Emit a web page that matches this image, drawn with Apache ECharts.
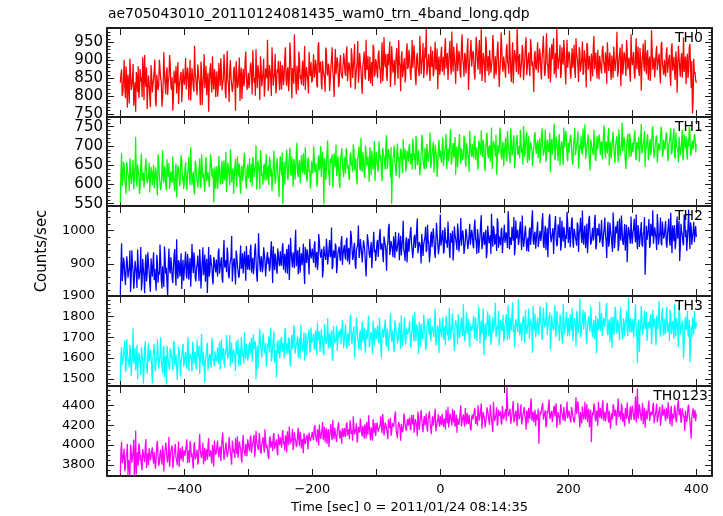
<!DOCTYPE html>
<html><head><meta charset="utf-8">
<script src="https://cdn.jsdelivr.net/npm/echarts@6/dist/echarts.min.js"></script>
<style>html,body{margin:0;padding:0;background:#fff}#c{width:723px;height:516px}</style>
</head><body><div id="c"></div>
<script>
const TITLE = 'ae705043010_20110124081435_wam0_trn_4band_long.qdp';
const X_NAME = 'Time [sec] 0 = 2011/01/24 08:14:35';
const Y_NAME = 'Counts/sec';
const BANDS = ['TH0', 'TH1', 'TH2', 'TH3', 'TH0123'];
// even-second bins start at -500 s, odd-second bins at -499 s, each 2 s apart
const EVEN_START = -500;
const ODD_START = -499;
const BIN_STEP = 2;

const TH0_EVEN = [
838,875,812,902,795,846,861,780,868,829,890,803,757,851,884,820,842,798,872,915,826,765,858,833,887,
811,848,903,772,856,829,880,841,796,923,835,867,804,852,889,818,760,871,842,808,895,826,859,784,877,
832,907,815,861,845,788,879,826,941,850,803,868,834,897,776,858,823,885,841,757,873,836,912,819,864,
847,799,893,829,872,836,918,811,862,845,784,901,851,827,883,760,869,832,908,856,793,877,840,925,818,
866,838,894,805,879,852,931,823,869,790,884,846,905,827,862,958,834,872,801,889,851,919,825,866,842,
898,819,874,856,937,830,881,847,912,795,868,973,842,885,817,903,859,876,829,940,852,886,808,871,896,
845,917,862,888,825,951,869,836,899,877,812,926,858,884,843,905,870,798,932,861,889,835,915,872,847,
903,857,939,868,886,824,912,879,946,851,894,838,921,873,807,899,865,958,882,843,910,876,829,934,862,
895,851,928,873,904,842,965,881,857,918,889,826,940,866,902,878,935,849,893,814,926,871,907,859,948,
883,913,846,957,874,899,831,921,888,969,862,905,851,936,990,879,918,843,896,927,868,952,884,820,911,
875,938,891,859,962,903,846,924,884,981,869,907,835,948,893,916,852,973,889,921,864,935,818,902,957,
881,919,847,966,893,925,862,987,874,908,839,944,895,858,930,886,971,849,912,878,953,826,901,937,869,
915,852,946,889,983,871,907,836,929,894,990,861,918,877,943,845,904,965,883,922,856,938,897,812,926,
874,951,890,918,847,932,905,868,976,884,913,839,945,899,862,921,990,876,909,851,937,888,924,833,958,
882,916,849,934,897,871,962,905,840,927,888,953,866,911,825,942,894,878,919,856,968,901,873,930,847,
909,864,941,887,923,835,956,898,872,914,851,937,893,980,869,905,828,946,882,917,857,929,896,864,973,
887,924,849,962,901,870,935,816,913,885,958,862,929,896,843,984,874,908,857,941,890,919,836,952,878,
902,855,937,884,916,829,948,893,867,925,810,941,879,903,852,965,886,834,919,872,946,823,752,905,868,
838];
const TH0_ODD = [
862,801,846,827,884,769,833,905,818,851,774,839,868,812,795,876,853,909,789,847,881,816,837,770,859,
833,874,786,861,818,902,850,771,838,864,806,881,843,915,827,853,797,836,884,857,779,842,868,825,850,
858,819,880,790,902,837,856,813,868,822,889,847,775,871,830,918,852,803,866,834,892,811,845,876,798,
870,823,858,906,817,849,881,795,927,836,873,851,812,869,840,898,824,863,787,880,846,828,897,859,835,
823,881,856,929,838,802,870,887,845,912,828,866,799,878,851,815,887,846,937,830,864,808,875,899,817,
853,887,832,909,845,872,814,950,858,879,835,891,806,862,925,848,833,899,871,818,882,843,924,857,839,
881,852,902,831,941,866,897,819,873,850,936,866,891,815,878,937,848,883,862,909,826,893,867,850,920,
866,921,842,895,860,934,851,905,820,878,954,864,893,838,887,925,847,874,913,859,836,896,944,855,904,
868,917,880,836,951,874,899,919,843,887,953,862,904,878,831,914,870,957,885,910,853,892,839,925,876,
930,867,896,879,942,852,908,884,857,921,893,949,874,908,859,899,867,939,881,856,911,874,933,896,860,
919,869,910,934,877,921,888,955,861,898,939,882,916,870,927,861,940,902,855,913,889,962,871,929,883,
927,866,900,938,874,957,896,843,921,882,967,870,912,929,866,903,944,877,860,931,895,868,978,884,911,
876,930,897,863,921,840,951,889,915,868,930,907,852,894,926,874,943,859,906,877,960,885,869,915,881,
912,866,933,874,907,969,857,924,892,849,936,878,903,962,881,852,919,896,944,865,901,957,870,908,880,
925,866,902,879,944,851,918,883,937,869,905,860,928,891,949,874,913,842,899,934,876,922,850,889,913,
876,930,897,865,904,951,871,922,846,889,938,870,916,855,902,936,879,861,923,890,957,875,908,841,910,
903,864,912,876,939,857,905,888,947,870,899,920,846,911,877,928,896,853,920,873,906,863,944,889,860,
874,918,866,903,858,931,872,910,846,899,877,936,855,921,884,868,911,893,851,938,880,899,790,862,845];

const TH1_EVEN = [
552,681,612,648,597,659,626,583,642,607,663,618,723,594,637,575,652,609,631,588,668,603,622,579,645,
598,651,610,633,571,662,619,596,689,605,640,584,627,656,592,615,673,601,638,566,649,613,594,661,622,
607,658,585,639,616,697,598,633,574,652,621,609,667,590,644,628,581,671,611,637,595,660,618,553,646,
625,589,674,612,648,601,663,631,580,657,620,691,605,642,618,666,593,636,654,576,649,623,682,607,641,
616,668,629,594,657,638,702,612,651,587,664,627,646,610,679,633,598,660,641,619,688,602,655,631,567,
673,624,548,659,636,690,611,648,629,672,594,657,640,708,618,663,599,647,681,625,652,607,670,638,615,
661,699,632,654,603,676,643,619,685,548,658,637,714,626,667,650,591,680,645,622,673,609,662,694,635,
672,628,690,651,611,683,659,704,637,668,600,679,646,721,633,664,617,688,655,641,697,624,670,650,609,
684,646,712,661,627,695,673,639,728,654,681,618,549,668,701,642,677,660,616,693,651,718,665,634,688,
659,705,672,638,697,681,726,650,689,624,677,713,662,695,641,684,669,735,655,692,630,703,674,647,716,
688,656,722,670,701,639,694,679,743,661,708,686,625,699,671,731,654,690,676,718,646,697,663,739,681,
705,668,727,689,652,714,693,741,671,700,634,719,682,696,659,748,687,710,673,625,702,690,733,665,711,
684,722,660,705,693,746,674,715,642,698,729,686,668,711,695,752,671,703,656,726,689,712,647,697,736,
679,714,692,655,727,701,684,743,668,709,690,632,718,697,758,676,705,661,731,688,712,650,696,739,674,
708,683,729,662,700,747,689,716,641,703,725,678,694,756,670,712,687,636,721,699,742,667,705,690,730,
676,712,695,754,668,703,722,649,710,688,737,673,701,726,657,715,694,760,681,706,640,719,697,733,672,
709,686,741,663,702,724,690,757,675,713,645,699,730,682,717,694,751,669,705,727,654,711,693,736,678,
715,692,728,660,703,746,684,711,673,735,698,657,720,689,742,676,707,726,665,700,739,681,714,695,722,
704];
const TH1_ODD = [
634,596,659,613,575,641,620,668,601,639,587,645,611,652,623,598,680,616,591,647,629,605,657,614,633,
626,590,644,603,678,621,585,639,611,648,597,665,620,589,634,604,625,582,654,618,637,596,676,608,588,
640,604,627,671,598,643,612,585,661,626,592,640,603,678,617,599,650,609,632,593,679,624,641,607,589,
648,611,635,599,661,626,610,684,618,640,597,655,632,576,647,614,673,620,598,641,609,666,627,588,652,
632,605,654,671,619,645,587,662,630,689,621,599,654,637,610,648,672,620,583,651,630,615,668,603,644,
640,683,617,599,664,627,648,696,623,637,666,612,682,630,655,603,676,628,641,697,618,664,632,589,660,
628,670,648,594,661,637,700,623,650,668,611,687,641,597,655,678,629,661,703,636,650,591,676,655,619,
659,694,641,622,676,649,633,690,655,614,670,699,636,661,684,628,701,648,673,606,662,687,638,713,651,
661,633,690,676,608,681,652,709,640,692,666,697,631,677,659,622,706,671,651,687,629,674,693,648,679,
696,652,681,719,663,638,701,666,690,648,729,661,639,683,705,659,691,642,679,711,664,688,619,695,670,
667,703,648,689,731,674,660,715,651,692,669,723,686,644,705,678,694,663,727,659,708,681,633,700,672,
681,720,664,696,638,708,677,695,716,650,691,735,668,702,687,640,713,695,729,661,680,748,674,698,647,
703,668,739,690,655,711,685,728,662,713,676,700,742,681,651,719,699,737,680,662,710,691,672,726,694,
706,668,720,687,745,675,699,659,716,684,735,707,677,696,663,724,690,712,649,703,681,748,691,719,660,
683,722,697,651,715,676,704,738,666,691,684,745,708,667,699,730,656,717,694,677,708,661,725,686,714,
706,665,733,690,712,680,747,697,668,721,700,655,716,688,743,674,700,686,724,661,692,731,670,712,689,
684,725,672,710,693,659,718,680,703,739,690,721,662,708,676,743,698,686,721,657,707,688,750,672,716,
690,735,673,702,721,678,709,745,667,700,689,724,676,710,662,730,694,681,719,749,674,705,690,731,683];

const TH2_EVEN = [
808,962,871,905,836,923,858,889,815,941,880,852,910,827,898,867,951,844,886,811,928,873,902,839,917,
861,935,884,819,908,876,958,849,893,830,917,888,806,946,871,899,842,925,868,974,855,903,881,824,912,
879,937,856,906,891,831,960,872,915,847,898,883,944,826,909,866,928,895,812,951,877,904,853,921,888,
913,862,946,889,920,843,972,897,875,930,856,908,984,881,917,838,925,900,866,955,892,871,938,849,911,
927,881,958,903,869,941,915,846,992,898,923,874,950,908,857,936,919,889,968,842,912,931,884,946,901,
938,894,962,917,873,945,926,851,979,908,935,887,1003,922,869,950,914,896,961,839,929,944,902,975,916,
946,903,968,925,882,990,937,914,859,953,929,976,898,944,920,1010,891,938,961,872,933,952,909,984,926,
957,913,979,936,898,1000,947,921,964,885,942,1016,929,955,904,971,938,862,989,950,918,966,931,997,943,
934,972,915,1005,948,927,983,955,879,962,1021,941,975,920,958,996,937,968,911,985,949,1030,930,964,904,
976,942,1011,957,923,988,964,1037,945,972,901,993,958,981,936,1018,961,927,997,950,979,918,1024,966,944,
1049,958,1002,939,985,971,1028,947,993,964,910,1013,975,942,999,961,1038,954,983,927,1006,969,948,1021,976,
990,947,1034,968,1005,933,981,1047,959,996,974,917,1015,962,987,1051,952,1001,970,939,1026,983,956,1009,966,
1018,961,993,1059,944,985,1012,970,926,1031,988,957,1004,979,1046,951,995,1020,964,937,1010,983,1062,958,997,
972,1027,955,1000,984,1053,948,1015,976,920,1036,993,962,1008,986,1044,953,1019,979,940,1030,967,1001,988,1057,
963,1011,984,1040,949,997,971,1025,936,1003,987,1061,958,1016,975,932,1034,990,966,1009,981,1048,955,999,1022,
974,1032,951,1006,985,918,1027,963,1001,979,1055,947,1013,988,939,1037,970,1004,957,1020,983,905,1011,976,1043,
961,1008,985,1049,944,1002,973,1026,952,998,867,1015,978,1035,959,994,1062,967,1007,942,1019,981,1040,956,1001,
985,1029,949,1012,970,1054,932,996,1017,963,1043,978,909,1021,988,956,1036,1002,971,1063,945,1010,984,1027,995,
981];
const TH2_ODD = [
895,848,919,866,831,903,877,940,856,897,825,909,872,943,853,884,820,915,862,899,847,935,880,816,890,
902,851,880,927,843,868,914,826,897,952,870,838,901,884,920,857,889,945,834,877,911,862,932,887,849,
908,867,930,852,918,882,899,935,861,887,925,848,904,871,950,889,846,915,880,862,927,893,838,909,874,
887,934,870,905,856,927,889,911,949,866,894,923,847,910,879,940,896,858,917,885,932,865,903,954,882,
896,940,873,918,889,961,868,904,930,876,915,891,944,862,922,899,878,937,907,953,881,916,870,929,893,
907,949,882,930,914,870,958,900,936,889,921,960,893,941,905,873,932,917,884,951,903,927,868,937,913,
921,957,889,936,902,968,919,945,880,931,912,949,901,972,927,884,941,918,953,895,936,920,967,897,944,
925,968,907,948,931,984,912,952,896,941,960,918,975,934,899,957,943,920,972,928,950,887,961,935,909,
965,921,987,943,962,905,978,936,954,1008,927,969,944,983,918,951,932,994,960,925,973,942,909,980,951,
937,995,962,918,979,948,1003,932,966,952,990,924,971,1012,943,969,905,985,950,1007,935,964,990,929,975,
955,986,931,1010,962,949,983,918,972,1000,945,988,961,1022,937,979,955,1001,930,968,992,945,985,958,1003,
957,1012,975,930,988,961,1020,944,983,957,1003,936,992,971,930,979,1015,958,990,1037,949,973,1000,932,984,
964,995,948,1024,981,957,989,1041,950,977,1003,968,1028,942,986,965,1015,938,979,1001,957,1034,971,990,946,
1001,951,985,969,1030,958,993,941,1009,981,1050,965,994,930,1019,977,960,998,1041,956,988,1012,947,975,1026,
990,950,1029,968,1006,980,955,1017,992,1039,963,981,1000,947,1022,973,1045,958,991,970,1033,944,1008,985,964,
1003,962,990,1040,971,997,952,1024,983,936,1012,968,992,1029,957,983,1046,966,989,940,1018,975,1001,961,987,
995,1036,965,980,1017,951,1000,959,991,1041,930,972,1006,948,1021,984,961,1010,977,1050,958,995,963,1028,976,
1008,963,991,1037,955,980,1016,968,944,1002,976,1031,952,997,964,1049,981,939,1012,987,1025,958,996,966,1014];

const TH3_EVEN = [
1489,1653,1572,1618,1534,1692,1597,1555,1631,1580,1744,1603,1541,1664,1590,1627,1518,1609,1476,1648,1586,1523,1671,1597,1612,
1478,1638,1565,1602,1691,1549,1617,1584,1526,1659,1598,1472,1623,1571,1647,1605,1540,1683,1591,1614,1556,1636,1511,1605,1669,
1573,1629,1548,1700,1591,1617,1535,1654,1602,1566,1688,1611,1524,1645,1589,1628,1481,1607,1674,1583,1620,1552,1662,1599,1633,
1585,1652,1607,1544,1691,1622,1578,1640,1711,1596,1628,1559,1675,1613,1650,1537,1633,1690,1601,1566,1658,1621,1724,1594,1642,
1608,1676,1625,1583,1715,1642,1497,1661,1618,1740,1637,1594,1686,1623,1560,1669,1705,1632,1584,1657,1729,1613,1505,1648,1690,
1637,1702,1654,1598,1746,1671,1619,1689,1558,1713,1660,1735,1629,1680,1602,1697,1762,1644,1676,1587,1721,1658,1693,1626,1748,
1667,1719,1640,1705,1772,1683,1631,1742,1691,1614,1726,1668,1793,1700,1652,1734,1586,1711,1679,1757,1637,1702,1741,1662,1718,
1689,1763,1645,1722,1696,1811,1668,1731,1602,1715,1749,1684,1720,1637,1777,1701,1659,1738,1693,1805,1672,1726,1618,1710,1746,
1692,1757,1671,1728,1600,1741,1709,1786,1654,1723,1697,1818,1679,1735,1628,1760,1714,1688,1771,1645,1730,1702,1797,1666,1742,
1712,1780,1648,1736,1701,1823,1683,1749,1619,1727,1766,1690,1811,1714,1658,1752,1729,1794,1671,1740,1702,1838,1685,1758,1624,
1746,1701,1799,1724,1662,1771,1738,1843,1690,1755,1718,1634,1782,1745,1812,1697,1763,1729,1860,1680,1752,1716,1790,1652,1770,
1728,1805,1693,1759,1736,1849,1672,1781,1744,1614,1768,1722,1826,1706,1763,1688,1797,1751,1867,1719,1740,1660,1786,1731,1809,
1702,1775,1738,1858,1694,1763,1820,1726,1651,1789,1747,1884,1710,1772,1735,1803,1673,1760,1742,1839,1698,1781,1625,1766,1815,
1733,1796,1712,1851,1749,1687,1785,1762,1870,1721,1774,1640,1808,1745,1790,1703,1829,1756,1683,1799,1738,1862,1715,1777,1752,
1794,1708,1769,1841,1726,1780,1655,1813,1747,1889,1716,1772,1738,1824,1690,1765,1803,1729,1857,1701,1784,1748,1622,1790,1755,
1731,1818,1696,1775,1742,1866,1710,1787,1753,1649,1801,1737,1829,1718,1769,1686,1845,1757,1792,1704,1776,1741,1891,1725,1783,
1762,1699,1812,1744,1575,1786,1728,1851,1711,1770,1738,1823,1690,1758,1797,1667,1834,1749,1719,1806,1740,1874,1702,1765,1731,
1790,1716,1848,1747,1683,1802,1759,1727,1863,1706,1778,1655,1813,1744,1781,1598,1769,1735,1827,1701,1580,1752,1796,1713,1761,
1774];
const TH3_ODD = [
1621,1566,1609,1684,1547,1630,1590,1663,1512,1606,1572,1649,1585,1498,1626,1571,1653,1594,1539,1681,1560,1617,1584,1640,1551,
1603,1667,1537,1588,1625,1581,1701,1562,1639,1507,1611,1659,1580,1542,1630,1594,1668,1563,1619,1494,1657,1603,1576,1648,1559,
1615,1581,1664,1537,1622,1593,1679,1571,1630,1543,1602,1660,1589,1716,1563,1621,1594,1650,1539,1608,1577,1698,1586,1558,1624,
1603,1571,1679,1630,1589,1648,1554,1617,1667,1594,1711,1630,1577,1642,1599,1683,1618,1560,1647,1702,1608,1573,1636,1669,1587,
1662,1617,1699,1577,1643,1681,1611,1549,1689,1658,1602,1720,1634,1673,1595,1651,1627,1746,1609,1665,1578,1639,1683,1621,1597,
1691,1630,1672,1727,1617,1654,1700,1581,1680,1643,1759,1621,1665,1708,1649,1595,1688,1632,1723,1655,1614,1692,1739,1647,1673,
1700,1650,1733,1612,1686,1729,1664,1701,1627,1766,1680,1703,1645,1722,1684,1616,1755,1671,1692,1635,1731,1695,1667,1784,1648,
1727,1673,1706,1658,1788,1690,1712,1754,1669,1797,1693,1640,1734,1711,1678,1746,1625,1722,1767,1652,1716,1694,1780,1663,1729,
1734,1683,1795,1648,1721,1699,1761,1677,1742,1634,1710,1752,1693,1649,1781,1728,1670,1737,1704,1807,1658,1722,1687,1744,1713,
1745,1696,1722,1808,1679,1735,1762,1711,1776,1655,1732,1704,1769,1638,1749,1791,1712,1680,1754,1727,1785,1661,1738,1716,1795,
1720,1774,1687,1753,1805,1711,1684,1766,1732,1817,1700,1757,1782,1665,1740,1727,1796,1706,1749,1678,1821,1737,1699,1768,1731,
1764,1712,1797,1683,1768,1802,1740,1715,1839,1731,1688,1777,1749,1808,1664,1753,1727,1794,1701,1756,1829,1716,1768,1745,1679,
1759,1813,1686,1744,1796,1732,1869,1763,1708,1780,1725,1805,1749,1683,1790,1760,1834,1717,1771,1694,1788,1747,1853,1734,1702,
1771,1726,1809,1765,1687,1842,1748,1790,1712,1776,1821,1699,1762,1734,1856,1718,1779,1745,1811,1729,1670,1793,1757,1824,1706,
1750,1812,1732,1681,1793,1763,1827,1719,1776,1700,1762,1835,1744,1790,1668,1781,1743,1850,1725,1770,1691,1806,1758,1735,1872,
1770,1705,1793,1751,1836,1724,1768,1676,1799,1762,1711,1848,1741,1785,1729,1816,1750,1693,1780,1764,1830,1707,1758,1794,1722,
1789,1741,1860,1720,1766,1630,1751,1799,1706,1829,1759,1683,1776,1743,1812,1719,1770,1791,1662,1758,1812,1734,1769,1842,1708,
1743,1809,1727,1770,1833,1715,1779,1694,1752,1796,1737,1856,1714,1760,1729,1682,1798,1755,1711,1785,1640,1703,1768,1827,1740];

const TH0123_EVEN = [
3711,4030,3845,3962,3780,3918,3695,3870,4005,3823,3941,3688,4148,3866,3792,3985,3903,3747,3952,3830,4061,3884,3801,3926,3858,
3977,3812,3936,3869,4042,3790,3915,3853,3998,3735,3889,3961,3824,4083,3872,3930,3766,3905,4010,3847,3922,3781,3968,3895,3830,
3946,3871,4058,3904,3822,3989,3917,3762,4031,3880,3955,3843,4112,3898,3941,3806,3974,3927,3853,4070,3915,3868,4002,3786,3957,
3930,4045,3876,3988,3942,4127,3851,3965,4019,3897,4084,3938,3803,3991,3956,4070,3912,3874,4035,3968,3825,4102,3947,4013,3887,
4050,3936,4097,3982,4028,3879,4143,4001,3950,4075,3913,4036,3986,4160,3968,4019,3861,4088,4004,3942,4121,3994,4057,3897,4033,
4079,3973,4152,4035,4098,3926,4061,4187,4014,4070,3952,4129,4046,4003,4175,3990,4085,4039,3918,4141,4057,4104,3967,4076,4028,
4135,4048,4201,4087,4160,3996,4118,4072,4233,4095,4027,4170,4109,3981,4146,4084,4255,4063,4124,4032,4189,4101,4150,4014,4138,
4171,4080,4228,4133,4059,4196,4147,4290,4108,4164,4025,4183,4127,4251,4089,4159,4210,4068,4142,4301,4116,4178,4045,4165,4221,
4159,4243,4122,4207,4174,4313,4098,4226,4165,4060,4198,4274,4139,4215,4176,4337,4110,4189,4252,4043,4205,4158,4287,4181,4229,
4196,4278,4148,4240,4305,4187,4231,4089,4264,4212,4352,4171,4247,4199,4318,4135,4260,4221,4109,4289,4236,4366,4180,4253,4214,
4291,4203,4330,4245,4157,4276,4385,4232,4301,4198,4263,4347,4220,4125,4284,4253,4402,4239,4310,4186,4268,4325,4211,4295,4147,
4306,4239,4372,4268,4195,4327,4291,4420,4252,4315,4178,4289,4349,4236,4408,4270,4132,4302,4258,4381,4224,4296,4340,4207,4317,
4273,4362,4586,4288,4331,4214,4305,4443,4259,4348,4190,4320,4281,4411,4246,4337,4298,4154,4326,4375,4263,4469,4292,4227,4356,
4310,4251,4014,4339,4288,4426,4272,4351,4205,4318,4460,4284,4343,4236,4397,4301,4176,4331,4270,4412,4322,4249,4368,4293,4438,
4286,4355,4227,4402,4311,4263,4481,4297,4346,4178,4324,4389,4258,4437,4305,4233,4367,4280,4030,4331,4419,4271,4348,4195,4316,
4372,4264,4451,4309,4238,4390,4283,4346,4165,4325,4412,4291,4357,4214,4470,4302,4255,4381,4320,4189,4343,4428,4277,4336,4252,
4398,4286,4340,4227,4570,4309,4361,4245,4426,4292,4175,4350,4313,4449,4260,4332,4388,4219,4304,4417,4271,4358,4196,4327,4295,
4362,4241,4315,4430,4278,4346,4187,4321,4402,4265,4339,4452,4296,4225,4371,4310,4143,4343,4284,4407,4252,4065,4329,4268,4355,
4317];
const TH0123_ODD = [
3952,3820,3907,3736,3889,4012,3851,3700,3938,3876,4055,3812,3705,3931,4018,3843,3795,3960,3872,3991,3770,3917,3969,3846,3941,
3870,3929,3763,3997,3888,3824,3954,3802,3935,3872,4026,3851,3916,3779,3943,3997,3838,3960,3871,3798,4037,3901,3853,3989,3925,
3890,3998,3820,3947,4041,3878,3932,3996,3857,3911,3802,3985,3948,3870,4024,3893,3839,3956,4003,3882,3948,3814,3933,4047,3901,
4003,3919,3962,3839,4061,3978,3905,4029,3880,3952,3993,3859,4046,3921,3870,3994,4088,3940,3989,3866,4022,3953,3891,3978,4059,
3972,4069,3921,4014,4103,3957,4046,3985,4122,3934,4009,4081,3923,4052,4007,3892,4064,3976,4039,4098,3961,4027,3935,4110,3999,
4036,4114,4007,3945,4066,4140,3998,4091,4044,4165,4002,4075,3980,4108,4052,4133,3964,4060,4121,4010,4083,3955,4127,4041,4098,
4070,4179,4099,4031,4130,4208,4062,4141,4053,4186,4120,4011,4162,4097,4213,4049,4103,4177,4075,4148,4229,4066,4105,4171,4083,
4124,4206,4097,4160,4250,4112,4043,4183,4137,4220,4076,4151,4267,4118,4195,4064,4171,4233,4104,4187,4048,4144,4262,4120,4092,
4226,4136,4184,4290,4123,4236,4150,4201,4118,4260,4170,4093,4221,4184,4298,4152,4071,4235,4168,4213,4128,4319,4194,4142,4262,
4245,4172,4303,4210,4124,4262,4197,4339,4153,4226,4271,4130,4293,4236,4185,4265,4341,4172,4242,4195,4295,4140,4230,4310,4186,
4237,4312,4183,4269,4355,4221,4177,4317,4248,4364,4226,4186,4307,4270,4204,4336,4188,4278,4231,4374,4209,4250,4306,4172,4282,
4258,4342,4213,4289,4401,4247,4307,4166,4335,4266,4229,4381,4296,4203,4320,4265,4437,4242,4311,4196,4357,4279,4230,4395,4262,
4329,4240,4408,4303,4366,4255,4389,4229,4311,4277,4424,4259,4344,4208,4298,4383,4266,4349,4221,4302,4412,4247,4338,4289,4191,
4283,4367,4230,4308,4390,4257,4319,4178,4345,4409,4263,4322,4230,4364,4288,4421,4256,4336,4204,4359,4290,4383,4238,4327,4271,
4347,4251,4383,4299,4226,4362,4315,4440,4268,4333,4219,4371,4300,4258,4413,4327,4181,4356,4262,4302,4385,4239,4312,4436,4276,
4309,4397,4245,4336,4280,4425,4227,4350,4300,4256,4387,4320,4198,4367,4283,4342,4418,4235,4309,4371,4264,4301,4215,4388,4338,
4340,4252,4489,4318,4266,4410,4291,4335,4211,4376,4300,4258,4392,4244,4337,4301,4425,4276,4354,4231,4315,4384,4262,4408,4330,
4288,4376,4263,4340,4207,4394,4315,4268,4356,4229,4415,4300,4371,4248,4322,4268,4345,4230,4384,4297,4153,4290,4371,4302,4240];

const X_LABELS = [-400, -200, 0, 200, 400];
const X_TICKS = [-500, -400, -300, -200, -100, 0, 100, 200, 300, 400];
const Y_LABELS = [
  [750, 800, 850, 900, 950],
  [550, 600, 650, 700, 750],
  [900, 1000],
  [1500, 1600, 1700, 1800, 1900],
  [3800, 4000, 4200, 4400]
];

// ---- axis ranges / layout ----
const X_MIN = -520.8, X_MAX = 424.5;
const Y_RANGE = [[742.5, 990.5], [543.8, 775.2], [803, 1074.6], [1465, 1900], [3689, 4595]];
const Y_MINOR_STEP = [10, 10, 20, 20, 50];
const GRID_TOP = [28, 117, 206, 296, 386];
const GRID_H = [89, 89, 90, 90, 90];
const COLORS = ['#ff0000', '#00ff00', '#0000ff', '#00ffff', '#ff00ff'];
const EVEN_VALUES = [TH0_EVEN, TH1_EVEN, TH2_EVEN, TH3_EVEN, TH0123_EVEN];
const ODD_VALUES = [TH0_ODD, TH1_ODD, TH2_ODD, TH3_ODD, TH0123_ODD];
const AX = '#1e1e1e';
const FONT = 'DejaVu Sans';

function mergeBins(even, odd) {
  const out = [];
  for (let i = 0; i < even.length; i++) {
    out.push([EVEN_START + i * BIN_STEP, even[i]]);
    if (i < odd.length) out.push([ODD_START + i * BIN_STEP, odd[i]]);
  }
  return out;
}

const fmtX = v => (v < 0 ? '\u2212' + (-v) : String(v));
const fmtY = v => String(v);
const grids = [], xAxes = [], yAxes = [], series = [], graphics = [];

for (let g = 0; g < 5; g++) {
  grids.push({ left: 107, width: 605, top: GRID_TOP[g], height: GRID_H[g], outerBoundsMode: 'none', containLabel: false });
  const last = g === 4;
  ['bottom', 'top'].forEach(pos => {
    const showLab = last && pos === 'bottom';
    xAxes.push({
      type: 'value', gridIndex: g, position: pos, min: X_MIN, max: X_MAX,
      axisLine: { show: true, onZero: false, lineStyle: { color: AX, width: 2 } },
      axisTick: { show: true, inside: true, length: 7, customValues: X_TICKS, lineStyle: { color: AX, width: 1 } },
      axisLabel: { show: showLab, customValues: X_LABELS, formatter: fmtX, fontFamily: FONT, fontSize: 13, color: '#000', margin: 7 },
      splitLine: { show: false },
      name: showLab ? X_NAME : '', nameLocation: 'middle', nameGap: 25,
      nameTextStyle: { fontFamily: FONT, fontSize: 13, color: '#000' }
    });
  });
  const [ymin, ymax] = Y_RANGE[g];
  const step = Y_MINOR_STEP[g];
  const minors = [];
  for (let v = Math.ceil(ymin / step) * step; v <= ymax; v += step) minors.push(v);
  [['left', true], ['left', false], ['right', true], ['right', false]].forEach(([pos, major]) => {
    const showLab = major && pos === 'left';
    const isName = showLab && g === 2;
    yAxes.push({
      type: 'value', gridIndex: g, position: pos, min: ymin, max: ymax,
      axisLine: { show: major, onZero: false, lineStyle: { color: AX, width: 2 } },
      axisTick: { show: true, inside: true, length: major ? 7 : 3.5, customValues: major ? Y_LABELS[g] : minors, lineStyle: { color: AX, width: 1 } },
      axisLabel: { show: showLab, customValues: Y_LABELS[g], formatter: fmtY, fontFamily: FONT, fontSize: g < 2 ? 15 : 13, color: '#000', margin: g < 2 ? 4 : 12 },
      splitLine: { show: false },
      name: isName ? Y_NAME : '', nameLocation: 'middle', nameGap: 57,
      nameTextStyle: { fontFamily: FONT, fontSize: 15, color: '#000' }
    });
  });
  series.push({
    type: 'line', name: BANDS[g], xAxisIndex: 2 * g, yAxisIndex: 4 * g,
    data: mergeBins(EVEN_VALUES[g], ODD_VALUES[g]),
    showSymbol: false, symbol: 'none', clip: true, sampling: null,
    lineStyle: { color: COLORS[g], width: 1.25 }, itemStyle: { color: COLORS[g] },
    animation: false, silent: true
  });
  graphics.push({
    type: 'text', x: last ? 708 : 703, y: GRID_TOP[g] + 10.5, z: 100,
    style: { text: BANDS[g], fill: '#000', font: '14px "' + FONT + '"', textAlign: 'right', textVerticalAlign: 'middle' }
  });
}

const chart = echarts.init(document.getElementById('c'), null, { renderer: 'canvas' });
chart.setOption({
  backgroundColor: '#fff',
  animation: false,
  title: { text: TITLE, left: 108, top: 7, padding: 0, textStyle: { fontFamily: FONT, fontSize: 13.9, fontWeight: 'normal', color: '#000' } },
  grid: grids, xAxis: xAxes, yAxis: yAxes, series: series,
  graphic: graphics,
  tooltip: { show: false }
});
</script>
</body></html>
